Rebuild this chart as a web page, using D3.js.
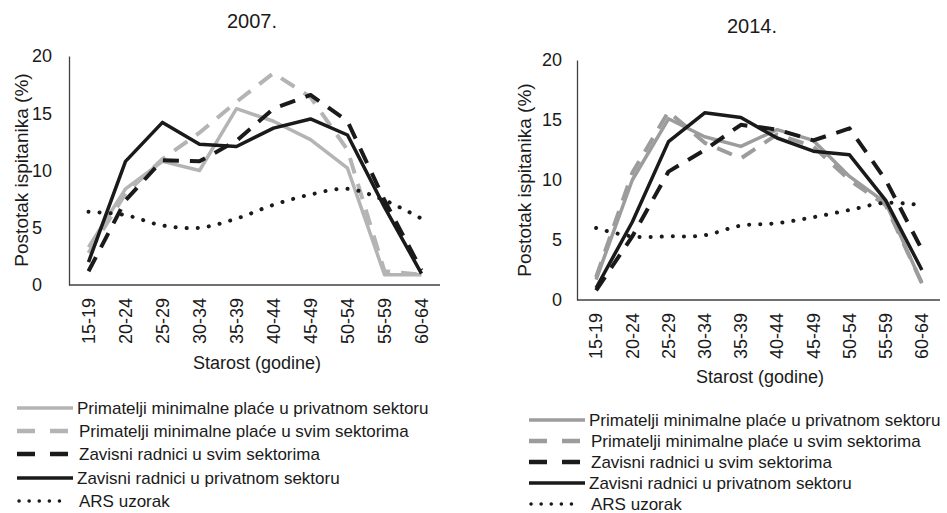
<!DOCTYPE html>
<html>
<head>
<meta charset="utf-8">
<script src="https://cdn.jsdelivr.net/npm/d3@7"></script>
<style>
  body { margin: 0; background: #fff; }
  svg text { font-family: "Liberation Sans", Arial, sans-serif; fill: #1a1a1a; }
</style>
</head>
<body>
<svg id="chart" width="947" height="513"></svg>
<script>
// Age groups on the x axis
const ageGroups = ["15-19", "20-24", "25-29", "30-34", "35-39", "40-44", "45-49", "50-54", "55-59", "60-64"];
const yTicks = [0, 5, 10, 15, 20];

const seriesNames = [
    "Primatelji minimalne plaće u privatnom sektoru",
    "Primatelji minimalne plaće u svim sektorima",
    "Zavisni radnici u svim sektorima",
    "Zavisni radnici u privatnom sektoru",
    "ARS uzorak"
];

// 2007.
const minPrivate2007 = [3.3, 8.4, 10.8, 10.0, 15.4, 14.3, 12.7, 10.2, 0.9, 0.9];
const minAll2007 = [2.8, 8.0, 11.0, 13.3, 16.0, 18.5, 16.4, 11.8, 1.2, 0.9];
const depAll2007 = [1.2, 7.4, 10.9, 10.8, 12.6, 15.4, 16.6, 14.3, 7.4, 1.3];
const depPrivate2007 = [2.0, 10.8, 14.2, 12.3, 12.1, 13.7, 14.5, 13.1, 6.8, 1.0];
const ars2007 = [6.4, 6.1, 5.2, 5.0, 5.8, 7.0, 7.9, 8.4, 7.4, 5.8];

// 2014.
const minPrivate2014 = [1.7, 10.0, 15.1, 13.6, 12.8, 14.2, 13.3, 10.3, 8.1, 1.4];
const minAll2014 = [1.9, 10.6, 15.7, 13.1, 11.8, 13.8, 12.8, 10.0, 7.9, 1.4];
const depAll2014 = [0.8, 5.3, 10.7, 12.5, 14.6, 14.2, 13.3, 14.3, 10.0, 4.2];
const depPrivate2014 = [1.0, 6.5, 13.2, 15.6, 15.2, 13.5, 12.4, 12.1, 8.3, 2.5];
const ars2014 = [6.0, 5.3, 5.3, 5.4, 6.2, 6.4, 6.9, 7.5, 8.1, 7.9];

const svg = d3.select("#chart");

// line styles, one per series (legend order)
function seriesStyles(gray) {
    return [
        { color: gray, width: 3.5, dash: null },
        { color: gray, width: 4, dash: "16,11" },
        { color: "#1a1a1a", width: 4, dash: "16,11" },
        { color: "#1a1a1a", width: 3.5, dash: null },
        { color: "#1a1a1a", width: 4, dash: "0.1,11", dotted: true }
    ];
}

function drawPanel(p, values) {
    const styles = seriesStyles(p.gray);

    const x = d3.scaleBand()
        .domain(ageGroups)
        .range([p.left, p.right]);

    const y = d3.scaleLinear()
        .domain([0, 20])
        .range([p.bottom, p.top]);

    // title
    svg.append("text")
        .attr("x", p.titleX).attr("y", p.titleY)
        .attr("text-anchor", "middle")
        .style("font-size", "20px")
        .text(p.title);

    // Y axis
    const yAxis = svg.append("g")
        .attr("transform", `translate(${p.left - 1}, 0)`)
        .call(d3.axisLeft(y).tickValues(yTicks).tickSize(0).tickSizeOuter(0).tickPadding(0));
    yAxis.select(".domain").attr("stroke", "#404040").attr("stroke-width", 1.3);
    yAxis.selectAll("text")
        .style("font-size", "18px")
        .attr("text-anchor", p.yLabelAnchor)
        .attr("x", p.yLabelX - (p.left - 1));

    // X axis
    const xAxis = svg.append("g")
        .attr("transform", `translate(0, ${p.bottom})`)
        .call(d3.axisBottom(x).tickSize(0).tickSizeOuter(0));
    xAxis.select(".domain").attr("stroke", "#404040").attr("stroke-width", 1.3)
        .attr("d", `M${p.left - 1},0H${p.right}`);
    xAxis.selectAll("text")
        .style("font-size", "18px")
        .attr("transform", "rotate(-90)")
        .attr("text-anchor", "end")
        .attr("x", -13)
        .attr("y", 0)
        .attr("dy", "0.35em");

    // axis titles
    svg.append("text")
        .attr("x", p.xTitleX).attr("y", p.xTitleY)
        .attr("text-anchor", "middle")
        .style("font-size", "18px")
        .text("Starost (godine)");

    svg.append("text")
        .attr("transform", `translate(${p.yTitleX}, ${p.yTitleY}) rotate(-90)`)
        .attr("text-anchor", "middle")
        .style("font-size", "19px")
        .text("Postotak ispitanika (%)");

    // series lines
    values.forEach((vals, i) => {
        const st = styles[i];
        const line = d3.line()
            .x((d, j) => x(ageGroups[j]) + x.bandwidth() / 2)
            .y(d => y(d))
            .curve(st.dotted ? d3.curveCatmullRom : d3.curveLinear);

        svg.append("path")
            .datum(vals)
            .attr("d", line)
            .attr("fill", "none")
            .attr("stroke", st.color)
            .attr("stroke-width", st.width)
            .attr("stroke-dasharray", st.dash)
            .attr("stroke-linecap", st.dotted ? "round" : "butt")
            .attr("stroke-linejoin", "round");
    });

    // legend
    seriesNames.forEach((name, i) => {
        const st = styles[i];
        const ly = p.legendRows[i];
        let x2 = p.legendX + 56;
        if (st.dash && !st.dotted) x2 = p.legendX + 51;
        if (st.dotted) x2 = p.legendX + 52;

        svg.append("line")
            .attr("x1", st.dotted ? p.legendX + 2 : p.legendX)
            .attr("x2", x2)
            .attr("y1", ly).attr("y2", ly)
            .attr("stroke", st.color)
            .attr("stroke-width", st.dotted ? 3.5 : (st.dash ? 4.5 : 3.5))
            .attr("stroke-dasharray", st.dotted ? "0.1,10" : (st.dash ? "18,15" : null))
            .attr("stroke-linecap", st.dotted ? "round" : "butt");

        svg.append("text")
            .attr("x", p.legendX + (st.dash ? 62 : 60))
            .attr("y", ly + 6)
            .style("font-size", "17px")
            .text(name);
    });
}

drawPanel({
    title: "2007.", titleX: 252, titleY: 28,
    left: 70, right: 440, top: 56, bottom: 285,
    yLabelAnchor: "start", yLabelX: 32,
    xTitleX: 257, xTitleY: 369,
    yTitleX: 28, yTitleY: 170,
    gray: "#b4b4b4",
    legendX: 17, legendRows: [408, 431, 454, 478, 501]
}, [minPrivate2007, minAll2007, depAll2007, depPrivate2007, ars2007]);

drawPanel({
    title: "2014.", titleX: 752, titleY: 33,
    left: 578, right: 940, top: 60, bottom: 300,
    yLabelAnchor: "end", yLabelX: 562,
    xTitleX: 760, xTitleY: 383,
    yTitleX: 531, yTitleY: 180,
    gray: "#9c9c9c",
    legendX: 529, legendRows: [420, 441, 462, 483, 504]
}, [minPrivate2014, minAll2014, depAll2014, depPrivate2014, ars2014]);
</script>
</body>
</html>
